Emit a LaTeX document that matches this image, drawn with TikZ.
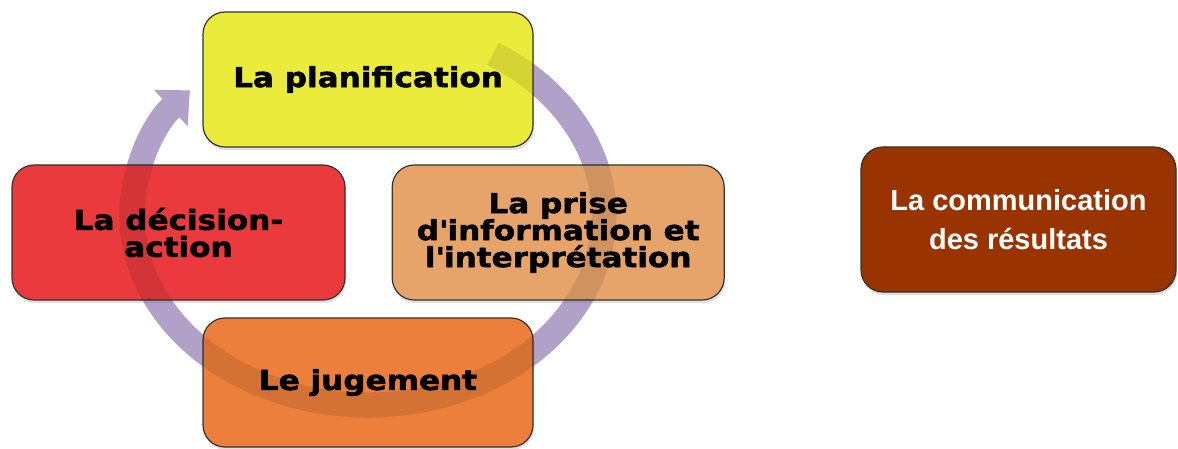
\documentclass[tikz,border=0pt]{standalone}
\usepackage{fontspec}
\newfontfamily\heavyfont{DejaVu Sans Bold}[FakeStretch=1.13, FakeBold=1.8]
\newfontfamily\arialfont{Liberation Sans}
\usepackage{tikz}
\usetikzlibrary{arrows.meta, positioning, shadows}

\definecolor{planyellow}{HTML}{EBEB3B}
\definecolor{decisionred}{HTML}{EA3A3E}
\definecolor{priseorange}{HTML}{E7A46A}
\definecolor{jugeorange}{HTML}{EC7F3B}
\definecolor{combrown}{HTML}{993300}
\definecolor{ringlilac}{HTML}{B1A0C7}

\begin{document}
\begin{tikzpicture}[
    x=1pt, y=1pt,
    box/.style={rectangle, draw=black!80, line width=1.2pt, rounded corners=22pt, minimum width=330pt, minimum height=135pt, align=center, inner sep=0pt, drop shadow={opacity=0.25, shadow xshift=1pt, shadow yshift=-3pt}},
    cycletext/.style={font=\heavyfont\fontsize{27.5}{27}\selectfont},
    ring/.style={line width=25pt, ringlilac}
]
\useasboundingbox (0,0) rectangle (1178,448);
\coordinate (ringcentre) at (368,233);
% cycle arrow behind the boxes
\draw[ring, -{Triangle[length=26pt, width=48pt]}] (ringcentre) ++(58:236pt and 190pt) arc[start angle=58, end angle=-221, x radius=236pt, y radius=190pt];

\node[box, cycletext, fill=planyellow] (plan) at (368,368.5) {La planification};
\node[box, cycletext, fill=decisionred, minimum width=333pt] (decision) at (178.5,215.5) {La décision-\\action};
\node[box, cycletext, fill=priseorange, minimum width=332pt, right=46pt of decision] (prise) {La prise\\d\textquotesingle information et\\l\textquotesingle interprétation};
\node[box, cycletext, fill=jugeorange, minimum height=129pt] (jugement) at (368,65.5) {Le jugement};
\node[box, fill=combrown, text=white, minimum width=315pt, minimum height=145pt, font=\arialfont\bfseries\fontsize{29}{39}\selectfont] (communication) at (1018.5,228.5) {La communication\\des résultats};

% the arrow shows through the boxes
\begin{scope}
\clip[rounded corners=22pt] (plan.south west) rectangle (plan.north east)
    (decision.south west) rectangle (decision.north east)
    (prise.south west) rectangle (prise.north east)
    (jugement.south west) rectangle (jugement.north east);
\draw[line width=25pt, black, opacity=0.1] (ringcentre) ++(58:236pt and 190pt) arc[start angle=58, end angle=-205, x radius=236pt, y radius=190pt];
\end{scope}
\end{tikzpicture}
\end{document}
